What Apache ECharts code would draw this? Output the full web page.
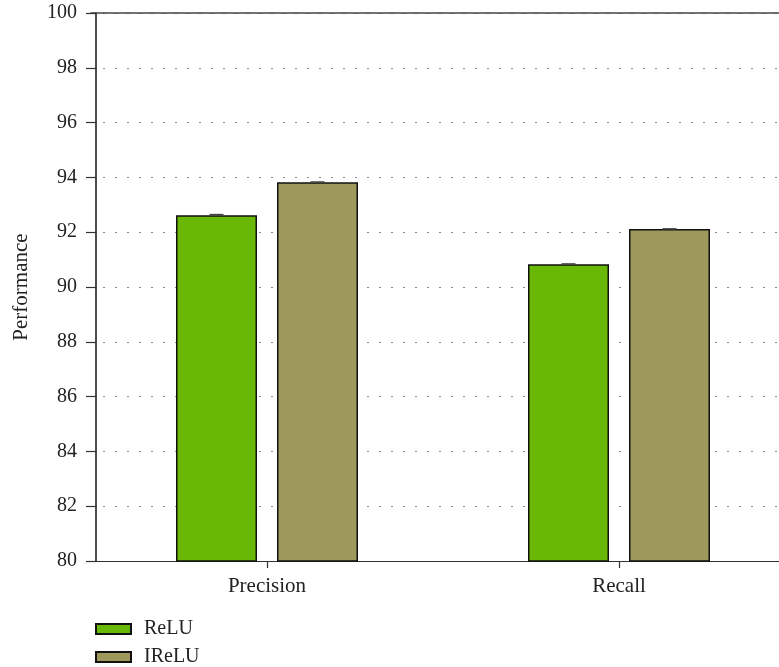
<!DOCTYPE html>
<html>
<head>
<meta charset="utf-8">
<script src="https://cdn.jsdelivr.net/npm/echarts@6/dist/echarts.min.js"></script>
<style>html,body{margin:0;padding:0;background:#fff;overflow:hidden;width:779px;height:667px}#c{width:800px;height:667px}</style>
</head>
<body>
<div id="c"></div>
<script>
var categories = ['Precision', 'Recall'];
var reluValues = [92.62, 90.83];
var ireluValues = [93.82, 92.12];
var reluErr = [0.05, 0.04];
var ireluErr = [0.04, 0.03];
var yTicks = [80, 82, 84, 86, 88, 90, 92, 94, 96, 98, 100];

var FONT = '"Liberation Serif", "Times New Roman", serif';
var BAR_W = 81, BAR_GAP = 20;

function errData(vals, errs, side) {
  return vals.map(function (v, i) { return [i, v, errs[i], side]; });
}

function renderErr(params, api) {
  var c = api.coord([api.value(0), api.value(1) + api.value(2)]);
  var side = api.value(3);
  var x = c[0] + side * (BAR_W + BAR_GAP) / 2;
  var bottom = api.coord([api.value(0), api.value(1)])[1];
  return {
    type: 'group',
    children: [
      { type: 'rect', shape: { x: x - 7, y: c[1], width: 14, height: Math.max(1.5, bottom - c[1]) },
        style: { fill: '#444' } }
    ]
  };
}

var chart = echarts.init(document.getElementById('c'), null, { renderer: 'canvas' });
chart.setOption({
  animation: false,
  backgroundColor: '#fff',
  grid: { left: 91, top: 13, right: 5, height: 548, containLabel: false },
  legend: {
    orient: 'vertical',
    left: 95,
    top: 619,
    padding: 0,
    height: 60,
    icon: 'rect',
    itemWidth: 35,
    itemHeight: 10,
    itemGap: 8,
    textStyle: { fontFamily: FONT, fontSize: 20, color: '#222', lineHeight: 20, padding: [0, 0, 0, 8] },
    data: ['ReLU', 'IReLU']
  },
  xAxis: [{
    type: 'category',
    data: categories,
    axisLine: { show: true, lineStyle: { color: '#333', width: 1.2 } },
    axisTick: { show: true, alignWithLabel: true, length: 7, lineStyle: { color: '#333', width: 1.2 } },
    axisLabel: { fontFamily: FONT, fontSize: 21, color: '#222', margin: 15 },
    splitLine: { show: false }
  }, {
    type: 'category',
    position: 'top',
    data: categories,
    axisLine: { show: true, lineStyle: { color: '#444', width: 1.5 } },
    axisTick: { show: false },
    axisLabel: { show: false }
  }],
  yAxis: {
    type: 'value',
    min: yTicks[0],
    max: yTicks[yTicks.length - 1],
    interval: yTicks[1] - yTicks[0],
    offset: -5,
    name: 'Performance',
    nameLocation: 'middle',
    nameGap: 64,
    nameTextStyle: { fontFamily: FONT, fontSize: 21, color: '#222' },
    axisLine: { show: true, lineStyle: { color: '#111', width: 1.5 } },
    axisTick: { show: true, inside: false, length: 10, lineStyle: { color: '#333', width: 1.2 } },
    axisLabel: { fontFamily: FONT, fontSize: 20, color: '#222', margin: 19, padding: [3, 0, 0, 0] },
    splitLine: { show: true, lineStyle: { color: '#888', width: 1, type: [2, 10] } }
  },
  series: [{
    name: 'ReLU',
    type: 'bar',
    data: reluValues,
    barWidth: BAR_W,
    barGap: (BAR_GAP / BAR_W * 100) + '%',
    itemStyle: { color: '#6ab806', borderColor: '#111', borderWidth: 1.5 },
    z: 2
  }, {
    name: 'IReLU',
    type: 'bar',
    data: ireluValues,
    barWidth: BAR_W,
    barGap: (BAR_GAP / BAR_W * 100) + '%',
    itemStyle: { color: '#9e985c', borderColor: '#111', borderWidth: 1.5 },
    z: 2
  }, {
    type: 'custom',
    renderItem: renderErr,
    data: errData(reluValues, reluErr, -1),
    z: 3,
    silent: true
  }, {
    type: 'custom',
    renderItem: renderErr,
    data: errData(ireluValues, ireluErr, 1),
    z: 3,
    silent: true
  }]
});
</script>
</body>
</html>
